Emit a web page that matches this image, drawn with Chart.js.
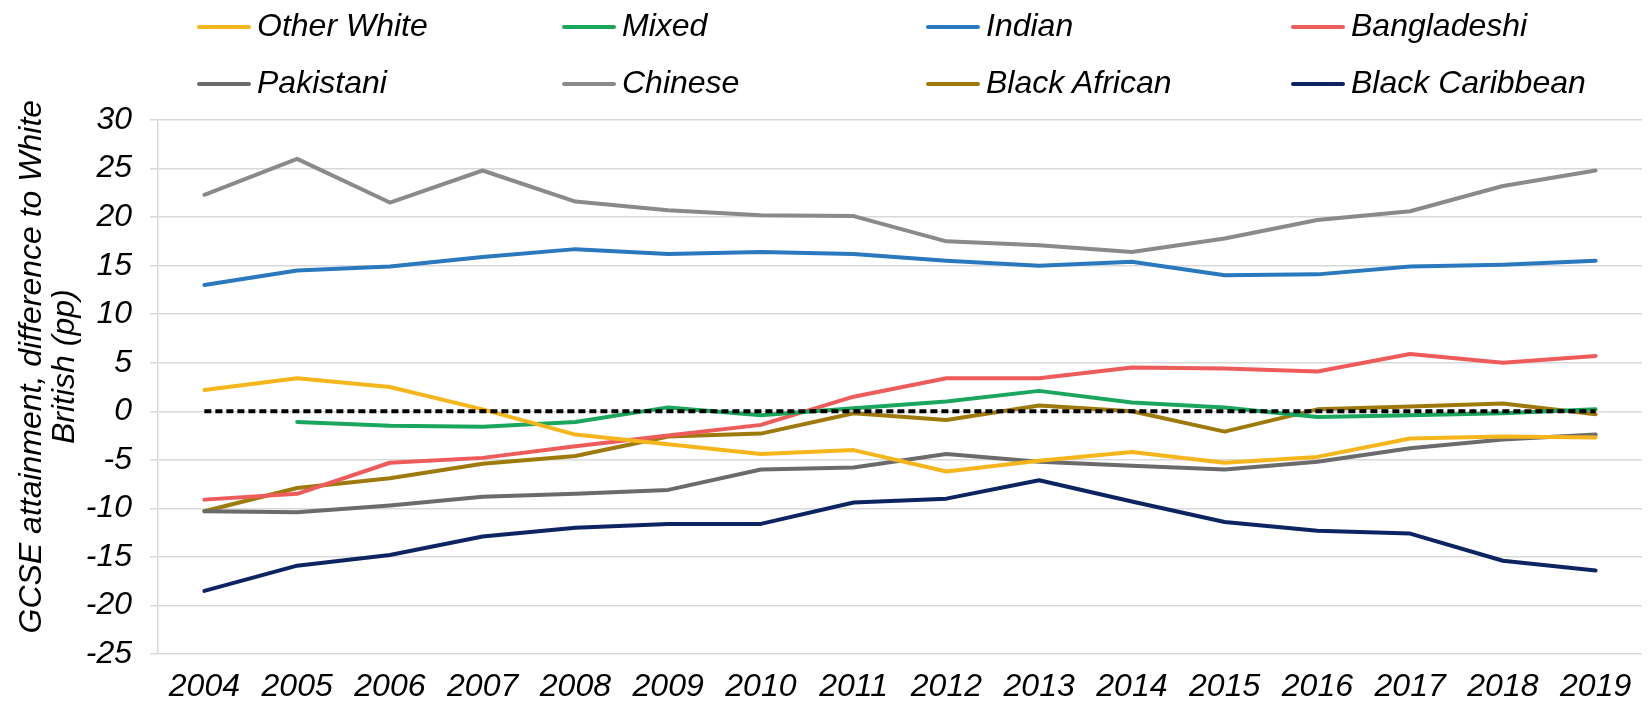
<!DOCTYPE html>
<html>
<head>
<meta charset="utf-8">
<script src="https://cdn.jsdelivr.net/npm/chart.js@4.4.0/dist/chart.umd.min.js"></script>
<style>
  html, body { margin: 0; padding: 0; background: #fff; }
  #wrap { position: relative; width: 1649px; height: 702px; }
  #chart { position: absolute; left: 0; top: 0; }
  #legend { position: absolute; left: 0; top: 0; width: 1649px; height: 110px; pointer-events: none; }
  .item { position: absolute; height: 40px; }
  .swatch { position: absolute; left: 0; width: 54px; height: 4px; border-radius: 2px; }
  .label { position: absolute; left: 60px; white-space: nowrap; font-family: "Liberation Sans", Arial, sans-serif; font-style: italic; font-size: 32px; line-height: 40px; color: #000; }
</style>
</head>
<body>
<div id="wrap">
  <canvas id="chart" width="1649" height="702"></canvas>
  <div id="legend"></div>
</div>
<script>
const years = ['2004','2005','2006','2007','2008','2009','2010','2011','2012','2013','2014','2015','2016','2017','2018','2019'];
const yTicks = [-25,-20,-15,-10,-5,0,5,10,15,20,25,30];
const yTitle = ['GCSE attainment, difference to White', 'British (pp)'];

const otherWhite     = [2.2, 3.4, 2.5, 0.2, -2.4, -3.4, -4.4, -4.0, -6.2, -5.1, -4.2, -5.3, -4.7, -2.8, -2.6, -2.7];
const mixed          = [null, -1.1, -1.5, -1.6, -1.1, 0.4, -0.4, 0.3, 1.0, 2.1, 0.9, 0.4, -0.6, -0.4, -0.2, 0.2];
const indian         = [13.0, 14.5, 14.9, 15.9, 16.7, 16.2, 16.4, 16.2, 15.5, 15.0, 15.4, 14.0, 14.1, 14.9, 15.1, 15.5];
const bangladeshi    = [-9.1, -8.5, -5.3, -4.8, -3.6, -2.5, -1.4, 1.5, 3.4, 3.4, 4.5, 4.4, 4.1, 5.9, 5.0, 5.7];
const pakistani      = [-10.3, -10.4, -9.7, -8.8, -8.5, -8.1, -6.0, -5.8, -4.4, -5.2, -5.6, -6.0, -5.2, -3.8, -2.9, -2.4];
const chinese        = [22.3, 26.0, 21.5, 24.8, 21.6, 20.7, 20.2, 20.1, 17.5, 17.1, 16.4, 17.8, 19.7, 20.6, 23.2, 24.8];
const blackAfrican   = [-10.3, -7.9, -6.9, -5.4, -4.6, -2.6, -2.3, -0.2, -0.9, 0.6, 0.0, -2.1, 0.2, 0.5, 0.8, -0.3];
const blackCaribbean = [-18.5, -15.9, -14.8, -12.9, -12.0, -11.6, -11.6, -9.4, -9.0, -7.1, -9.3, -11.4, -12.3, -12.6, -15.4, -16.4];
const zeroLine       = [0, 0, 0, 0, 0, 0, 0, 0, 0, 0, 0, 0, 0, 0, 0, 0];

const seriesNames  = ['Other White','Mixed','Indian','Bangladeshi','Pakistani','Chinese','Black African','Black Caribbean'];
const seriesData   = [otherWhite, mixed, indian, bangladeshi, pakistani, chinese, blackAfrican, blackCaribbean];
const seriesColors = ['#F5B61C','#1BA65E','#2A78BE','#EE5B5B','#6B6B6B','#8A8A8A','#9E7A0C','#0C2462'];

// legend layout: 4 columns x 2 rows
const legendCols = [197, 562, 926, 1291];
const legendRows = [5, 62];

const legend = document.getElementById('legend');
seriesNames.forEach((name, i) => {
  const it = document.createElement('div');
  it.className = 'item';
  it.style.left = legendCols[i % 4] + 'px';
  it.style.top = legendRows[Math.floor(i / 4)] + 'px';
  const sw = document.createElement('div');
  sw.className = 'swatch';
  sw.style.top = '20px';
  sw.style.background = seriesColors[i];
  const lb = document.createElement('div');
  lb.className = 'label';
  lb.style.top = '0px';
  lb.textContent = name;
  it.appendChild(sw); it.appendChild(lb);
  legend.appendChild(it);
});

const datasets = [{
  label: 'zero',
  data: zeroLine,
  borderColor: '#000',
  borderWidth: 4,
  borderDash: [7, 4],
  pointRadius: 0,
  fill: false
}];
seriesNames.forEach((name, i) => {
  datasets.push({
    label: name,
    data: seriesData[i],
    borderColor: seriesColors[i],
    backgroundColor: seriesColors[i],
    borderWidth: 4,
    pointRadius: 0,
    tension: 0,
    fill: false,
    borderJoinStyle: 'round',
    borderCapStyle: 'round'
  });
});

const tickFont = { family: '"Liberation Sans", Arial, sans-serif', style: 'italic', size: 32 };

// y-axis title drawn as two centred rotated lines
const yTitlePlugin = {
  id: 'yTitle',
  afterDraw(chart) {
    const ctx = chart.ctx;
    const area = chart.chartArea;
    const cy = area.top + (area.bottom - area.top) * 0.462;
    ctx.save();
    ctx.font = 'italic 32px "Liberation Sans", Arial, sans-serif';
    ctx.fillStyle = '#000';
    ctx.textAlign = 'center';
    ctx.textBaseline = 'middle';
    const xs = [32, 65];
    yTitle.forEach((line, i) => {
      ctx.save();
      ctx.translate(xs[i], cy);
      ctx.rotate(-Math.PI / 2);
      ctx.fillText(line, 0, 0);
      ctx.restore();
    });
    ctx.restore();
  }
};

new Chart(document.getElementById('chart'), {
  type: 'line',
  data: { labels: years, datasets },
  plugins: [yTitlePlugin],
  options: {
    responsive: false,
    devicePixelRatio: 1,
    animation: false,
    events: [],
    layout: { padding: { left: 0, right: 7, top: 120, bottom: 0 } },
    plugins: { legend: { display: false }, tooltip: { enabled: false } },
    scales: {
      x: {
        offset: true,
        grid: { display: false },
        border: { display: false },
        ticks: { color: '#000', font: tickFont, padding: 6, maxRotation: 0, autoSkip: false },
        afterFit: s => { s.height = 48; }
      },
      y: {
        min: -25, max: 30,
        afterBuildTicks: s => { s.ticks = yTicks.map(v => ({ value: v })); },
        grid: { color: '#d9d9d9', lineWidth: 1.5, tickLength: 8, drawTicks: true },
        border: { display: true, color: '#d9d9d9', width: 1.5 },
        ticks: { color: '#000', font: tickFont, padding: 18 },
        afterFit: s => { s.width = 158; }
      }
    }
  }
});
</script>
</body>
</html>
